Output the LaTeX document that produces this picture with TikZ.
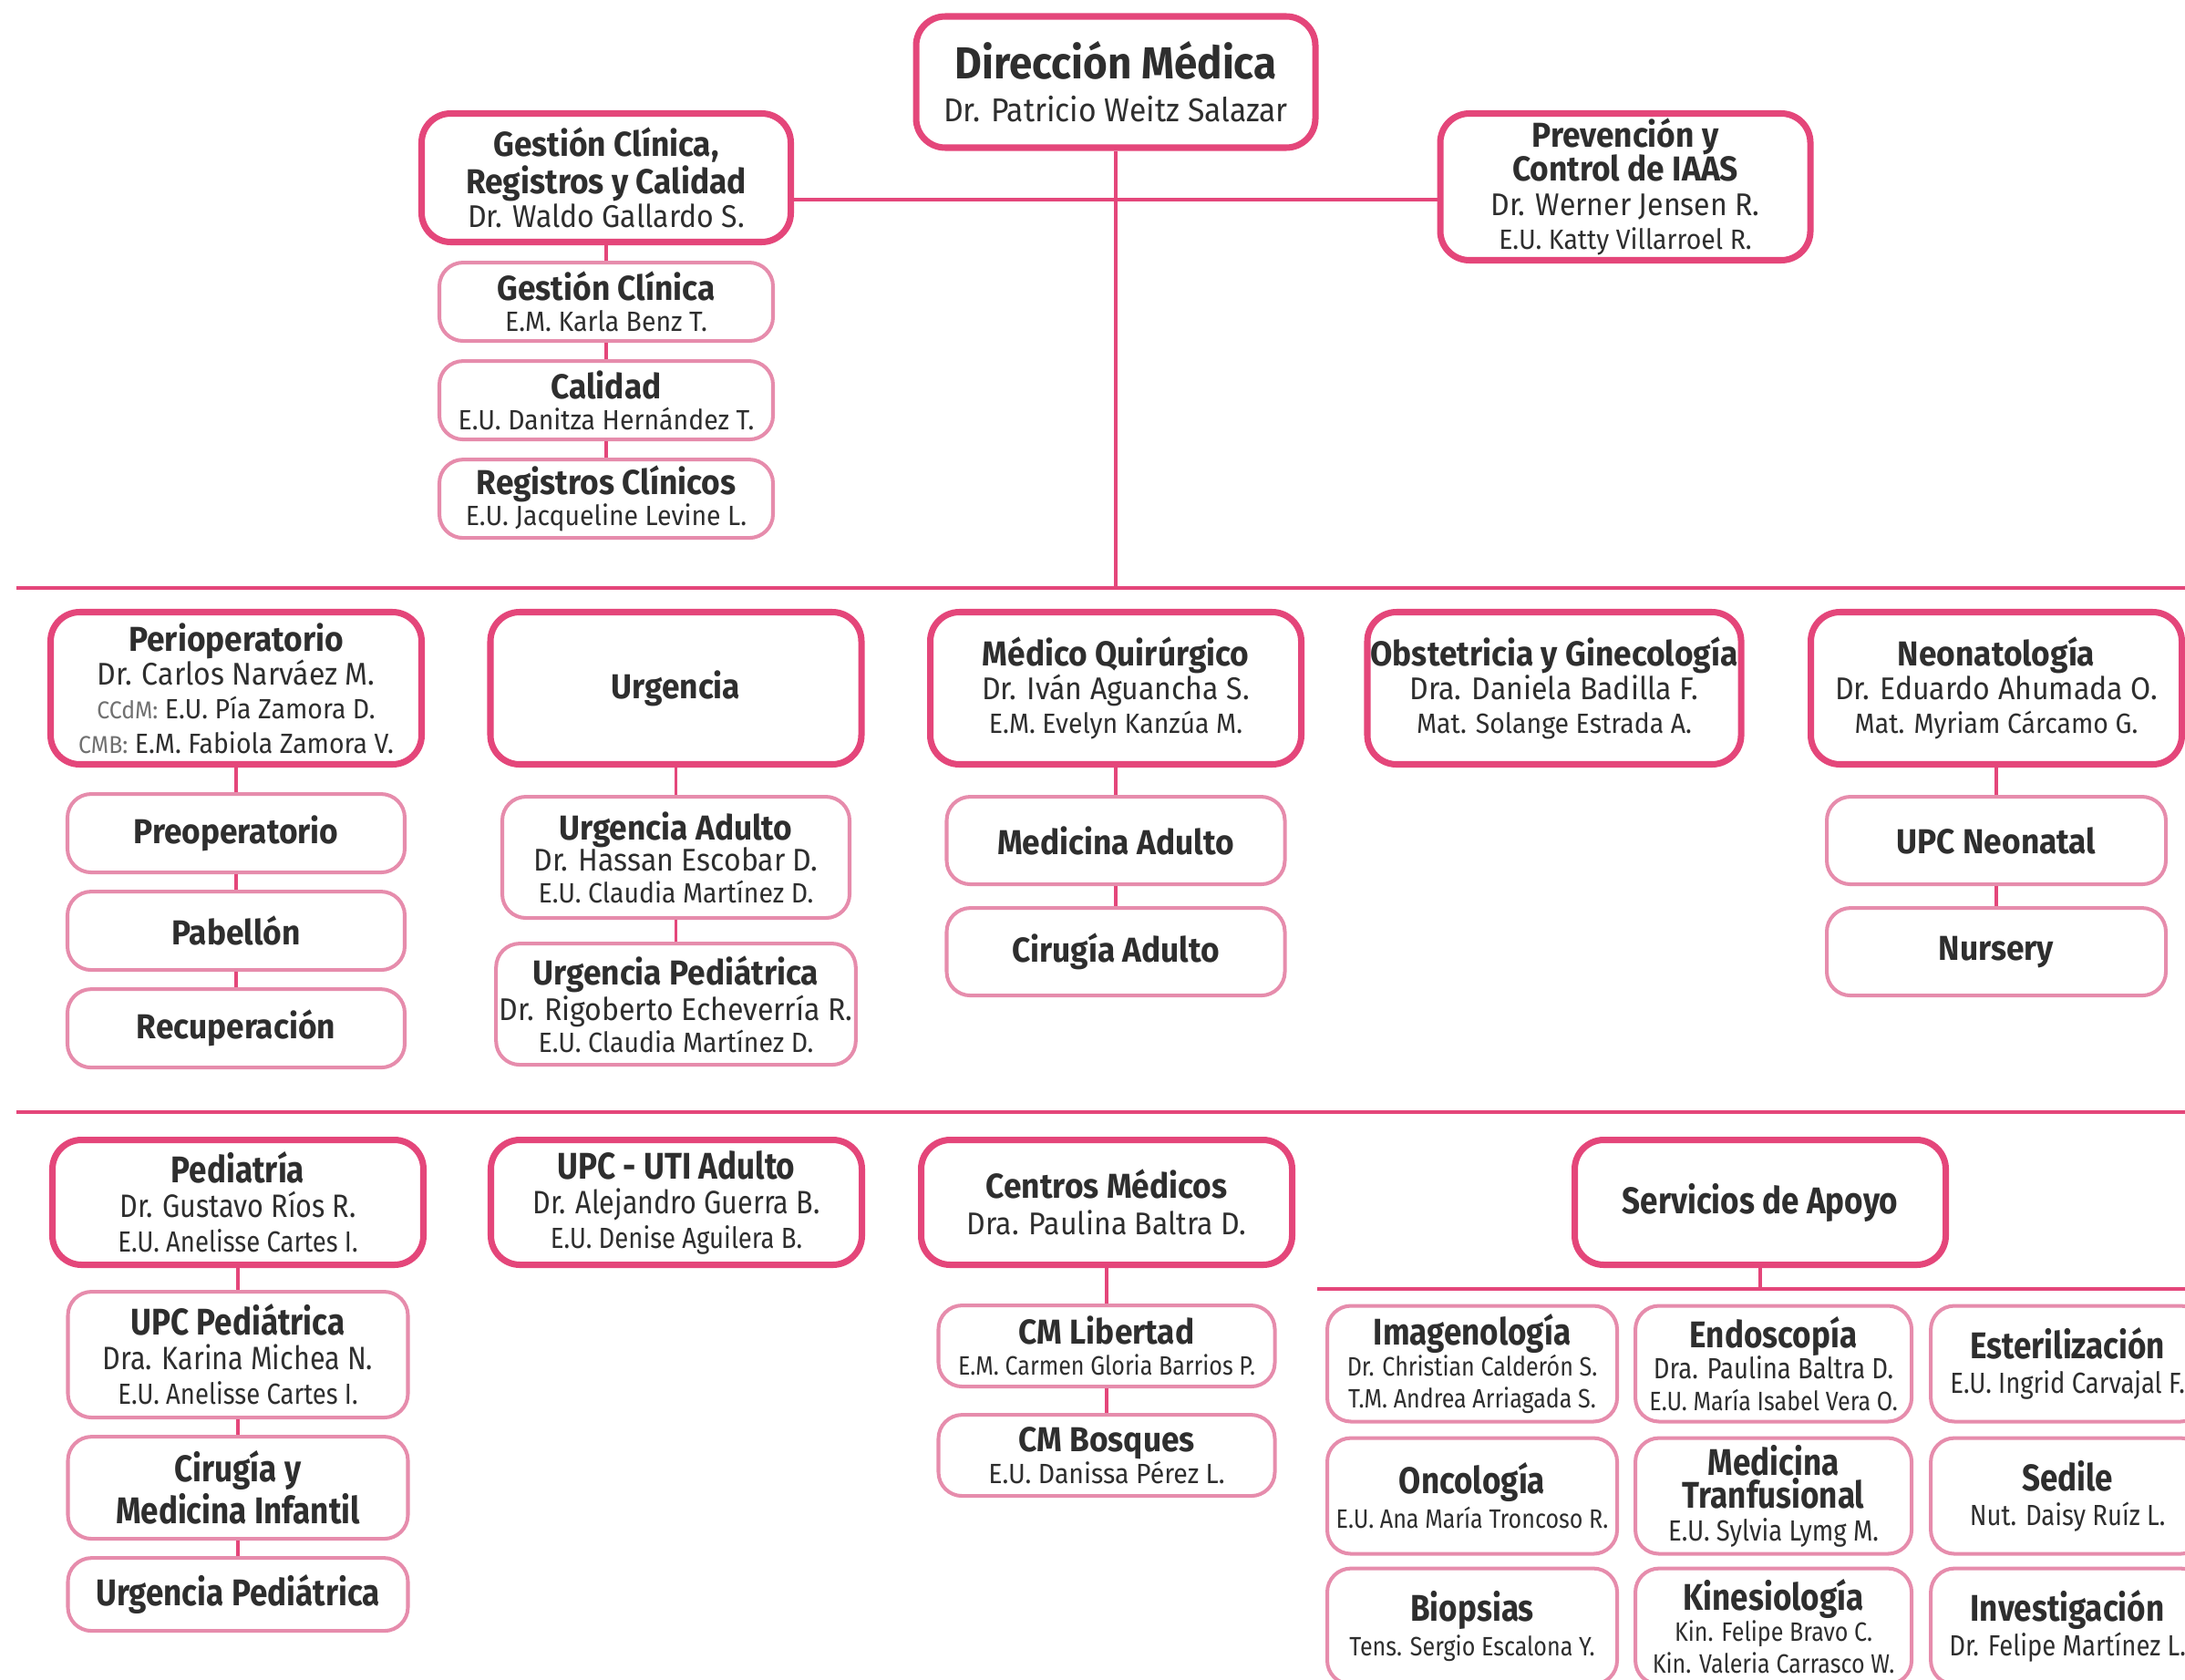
\documentclass[tikz,border=0pt]{standalone}
\usepackage{fontspec}
\setmainfont{Fira Sans}[FakeStretch=0.93]
\newfontfamily\angosta{Fira Sans}[FakeStretch=0.86]
\usetikzlibrary{positioning}

\definecolor{rosa}{HTML}{E4467A}
\definecolor{rosaclaro}{HTML}{E68CAC}
\definecolor{texto}{HTML}{2E2E2E}
\definecolor{gris}{HTML}{707070}

% tamanos normales
\newcommand{\jtit}{\bfseries\fontsize{10.8}{11.5}\selectfont}
\newcommand{\jnom}{\mdseries\fontsize{9.8}{10.8}\selectfont}
\newcommand{\jcar}{\mdseries\fontsize{8.7}{9.6}\selectfont}
% tamanos angostos
\newcommand{\ctit}{\bfseries\fontsize{11.6}{12}\selectfont}
\newcommand{\cnom}{\mdseries\fontsize{10.1}{11}\selectfont}
\newcommand{\ccar}{\mdseries\fontsize{9.1}{10}\selectfont}
\newcommand{\csm}{\mdseries\fontsize{8.3}{9.4}\selectfont}

\begin{document}
\begin{tikzpicture}[
		jefe/.style={draw=rosa, line width=2pt, rounded corners=0.32cm, fill=white, text=texto, align=center, inner sep=1pt, minimum width=4.07cm, minimum height=1.67cm, font=\fontsize{9}{10.6}\selectfont},
		jefeang/.style={jefe, font=\angosta\fontsize{9}{10.8}\selectfont},
		unidad/.style={draw=rosaclaro, line width=1.15pt, rounded corners=0.26cm, fill=white, text=texto, align=center, inner sep=1pt, font=\fontsize{9}{9.8}\selectfont},
		unidadang/.style={unidad, font=\angosta\fontsize{9}{9.9}\selectfont},
		linea/.style={draw=rosa, line width=1.4pt},
		rama/.style={draw=rosa, line width=1.1pt}
		]
		\useasboundingbox (0,0) rectangle (23.97,-18.42);
		\coordinate (cruce) at (12.24,-2.19);
		\coordinate (fila1) at (0.18,-6.45);
		\coordinate (fila1e) at (23.97,-6.45);
		\coordinate (fila2) at (0.18,-12.20);
		\coordinate (fila2e) at (23.97,-12.20);
		\coordinate (fila3) at (14.45,-14.14);
		\coordinate (fila3e) at (23.97,-14.14);
		% direccion y staff
		\node[jefe, minimum width=4.38cm, minimum height=1.44cm, font=\fontsize{10}{13.4}\selectfont] (direccion) at (12.24,-0.90) {{\bfseries\fontsize{14}{15}\selectfont Dirección Médica}\\{\mdseries\fontsize{10.3}{12}\selectfont Dr. Patricio Weitz Salazar}};
		\node[jefe, minimum width=4.05cm, minimum height=1.41cm] (gestion) at (6.65,-1.95) {{\jtit Gestión Clínica,}\\{\jtit Registros y Calidad}\\{\jnom Dr. Waldo Gallardo S.}};
		\node[jefe, minimum width=4.06cm, minimum height=1.61cm] (prevencion) at (17.83,-2.05) {{\jtit Prevención y}\\{\jtit Control de IAAS}\\{\jnom Dr. Werner Jensen R.}\\{\jcar E.U. Katty Villarroel R.}};
		\node[unidad, minimum width=3.66cm, minimum height=0.86cm, below=0.17cm of gestion] (gclinica) {{\jtit Gestión Clínica}\\{\jcar E.M. Karla Benz T.}};
		\node[unidad, minimum width=3.66cm, minimum height=0.86cm, below=0.18cm of gclinica] (calidad) {{\jtit Calidad}\\{\jcar E.U. Danitza Hernández T.}};
		\node[unidad, minimum width=3.66cm, minimum height=0.86cm, below=0.18cm of calidad] (registros) {{\jtit Registros Clínicos}\\{\jcar E.U. Jacqueline Levine L.}};
		\draw[linea] (direccion) -- (direccion |- fila1);
		\draw[linea] (gestion.east |- cruce) -- (prevencion.west |- cruce);
		\draw[rama] (gestion) -- (gclinica);
		\draw[rama] (gclinica) -- (calidad);
		\draw[rama] (calidad) -- (registros);
		\draw[linea] (fila1) -- (fila1e);
		% segunda fila
		\node[jefe] (periop) at (2.59,-7.55) {{\jtit Perioperatorio}\\{\jnom Dr. Carlos Narváez M.}\\{\jcar{\color{gris}\fontsize{7.6}{9}\selectfont CCdM:} E.U. Pía Zamora D.}\\{\jcar{\color{gris}\fontsize{7.6}{9}\selectfont CMB:} E.M. Fabiola Zamora V.}};
		\node[jefe] (urgencia) at (7.415,-7.55) {{\jtit Urgencia}};
		\node[jefe] (medquir) at (12.24,-7.55) {{\jtit Médico Quirúrgico}\\{\jnom Dr. Iván Aguancha S.}\\{\jcar E.M. Evelyn Kanzúa M.}};
		\node[jefe] (obstetricia) at (17.05,-7.55) {{\jtit Obstetricia y Ginecología}\\{\jnom Dra. Daniela Badilla F.}\\{\jcar Mat. Solange Estrada A.}};
		\node[jefe] (neonato) at (21.90,-7.55) {{\jtit Neonatología}\\{\jnom Dr. Eduardo Ahumada O.}\\{\jcar Mat. Myriam Cárcamo G.}};
		\node[unidad, minimum width=3.70cm, minimum height=0.86cm, below=0.27cm of periop] (preop) {{\jtit Preoperatorio}};
		\node[unidad, minimum width=3.70cm, minimum height=0.86cm, below=0.17cm of preop] (pabellon) {{\jtit Pabellón}};
		\node[unidad, minimum width=3.70cm, minimum height=0.86cm, below=0.17cm of pabellon] (recuperacion) {{\jtit Recuperación}};
		\node[unidad, minimum width=3.81cm, minimum height=1.33cm, below=0.30cm of urgencia] (uadulto) {{\jtit Urgencia Adulto}\\{\jnom Dr. Hassan Escobar D.}\\{\jcar E.U. Claudia Martínez D.}};
		\node[unidad, minimum width=3.81cm, minimum height=1.33cm, below=0.24cm of uadulto] (upediatrica) {{\jtit Urgencia Pediátrica}\\{\jnom Dr. Rigoberto Echeverría R.}\\{\jcar E.U. Claudia Martínez D.}};
		\node[unidad, minimum width=3.71cm, minimum height=0.96cm, below=0.30cm of medquir] (madulto) {{\jtit Medicina Adulto}};
		\node[unidad, minimum width=3.71cm, minimum height=0.96cm, below=0.22cm of madulto] (cadulto) {{\jtit Cirugía Adulto}};
		\node[unidad, minimum width=3.72cm, minimum height=0.96cm, below=0.30cm of neonato] (upcneo) {{\jtit UPC Neonatal}};
		\node[unidad, minimum width=3.72cm, minimum height=0.96cm, below=0.22cm of upcneo] (nursery) {{\jtit Nursery}};
		\draw[rama] (periop) -- (preop);
		\draw[rama] (preop) -- (pabellon);
		\draw[rama] (pabellon) -- (recuperacion);
		\draw[rama] (urgencia) -- (uadulto);
		\draw[rama] (uadulto) -- (upediatrica);
		\draw[rama] (medquir) -- (madulto);
		\draw[rama] (madulto) -- (cadulto);
		\draw[rama] (neonato) -- (upcneo);
		\draw[rama] (upcneo) -- (nursery);
		\draw[linea] (fila2) -- (fila2e);
		% tercera fila
		\node[jefeang, minimum height=1.37cm] (pediatria) at (2.61,-13.19) {{\ctit Pediatría}\\{\cnom Dr. Gustavo Ríos R.}\\{\ccar E.U. Anelisse Cartes I.}};
		\node[jefeang, minimum height=1.37cm] (upcuti) at (7.42,-13.19) {{\ctit UPC - UTI Adulto}\\{\cnom Dr. Alejandro Guerra B.}\\{\ccar E.U. Denise Aguilera B.}};
		\node[jefe, minimum height=1.37cm, font=\fontsize{9}{11.4}\selectfont] (centros) at (12.14,-13.19) {{\jtit Centros Médicos}\\{\jnom Dra. Paulina Baltra D.}};
		\node[jefeang, minimum height=1.37cm] (apoyo) at (19.31,-13.19) {{\ctit Servicios de Apoyo}};
		\node[unidadang, minimum width=3.73cm, minimum height=1.38cm, font=\angosta\fontsize{9}{10.8}\selectfont, below=0.24cm of pediatria] (upcped) {{\ctit UPC Pediátrica}\\{\cnom Dra. Karina Michea N.}\\{\ccar E.U. Anelisse Cartes I.}};
		\node[unidadang, minimum width=3.73cm, minimum height=1.12cm, font=\angosta\fontsize{9}{10.9}\selectfont, below=0.17cm of upcped] (cirinf) {{\ctit Cirugía y}\\{\ctit Medicina Infantil}};
		\node[unidadang, minimum width=3.73cm, minimum height=0.80cm, below=0.17cm of cirinf] (urgped) {{\ctit Urgencia Pediátrica}};
		\node[unidad, minimum width=3.69cm, minimum height=0.89cm, below=0.39cm of centros] (cmlib) {{\jtit CM Libertad}\\{\angosta\csm E.M. Carmen Gloria Barrios P.}};
		\node[unidad, minimum width=3.69cm, minimum height=0.89cm, below=0.27cm of cmlib] (cmbos) {{\jtit CM Bosques}\\{\jcar E.U. Danissa Pérez L.}};
		\draw[rama] (pediatria) -- (upcped);
		\draw[rama] (upcped) -- (cirinf);
		\draw[rama] (cirinf) -- (urgped);
		\draw[rama] (centros) -- (cmlib);
		\draw[rama] (cmlib) -- (cmbos);
		\draw[rama] (apoyo) -- (apoyo |- fila3);
		\draw[linea] (fila3) -- (fila3e);
		% servicios de apoyo
		\node[unidadang, minimum width=3.18cm, minimum height=1.27cm] (imagen) at (16.15,-14.96) {{\ctit Imagenología}\\{\csm Dr. Christian Calderón S.}\\{\csm T.M. Andrea Arriagada S.}};
		\node[unidadang, minimum width=3.03cm, minimum height=1.27cm, right=0.16cm of imagen] (endosc) {{\ctit Endoscopía}\\{\ccar Dra. Paulina Baltra D.}\\{\csm E.U. María Isabel Vera O.}};
		\node[unidadang, minimum width=3.00cm, minimum height=1.27cm, font=\angosta\fontsize{9}{10.8}\selectfont, right=0.17cm of endosc] (esteril) {{\ctit Esterilización}\\{\ccar E.U. Ingrid Carvajal F.}};
		\node[unidadang, minimum width=3.18cm, minimum height=1.27cm, font=\angosta\fontsize{9}{10.8}\selectfont, below=0.14cm of imagen] (oncol) {{\ctit Oncología}\\{\csm E.U. Ana María Troncoso R.}};
		\node[unidadang, minimum width=3.03cm, minimum height=1.27cm, font=\angosta\fontsize{9}{10.2}\selectfont, below=0.14cm of endosc] (medtrans) {{\ctit Medicina}\\{\ctit Tranfusional}\\{\ccar E.U. Sylvia Lymg M.}};
		\node[unidadang, minimum width=3.00cm, minimum height=1.27cm, font=\angosta\fontsize{9}{10.8}\selectfont, below=0.14cm of esteril] (sedile) {{\ctit Sedile}\\{\ccar Nut. Daisy Ruíz L.}};
		\node[unidadang, minimum width=3.18cm, minimum height=1.27cm, font=\angosta\fontsize{9}{10.8}\selectfont, below=0.12cm of oncol] (biopsias) {{\ctit Biopsias}\\{\csm Tens. Sergio Escalona Y.}};
		\node[unidadang, minimum width=3.03cm, minimum height=1.27cm, below=0.12cm of medtrans] (kinesio) {{\ctit Kinesiología}\\{\csm Kin. Felipe Bravo C.}\\{\csm Kin. Valeria Carrasco W.}};
		\node[unidadang, minimum width=3.00cm, minimum height=1.27cm, font=\angosta\fontsize{9}{10.8}\selectfont, below=0.12cm of sedile] (investig) {{\ctit Investigación}\\{\ccar Dr. Felipe Martínez L.}};
	\end{tikzpicture}
\end{document}
